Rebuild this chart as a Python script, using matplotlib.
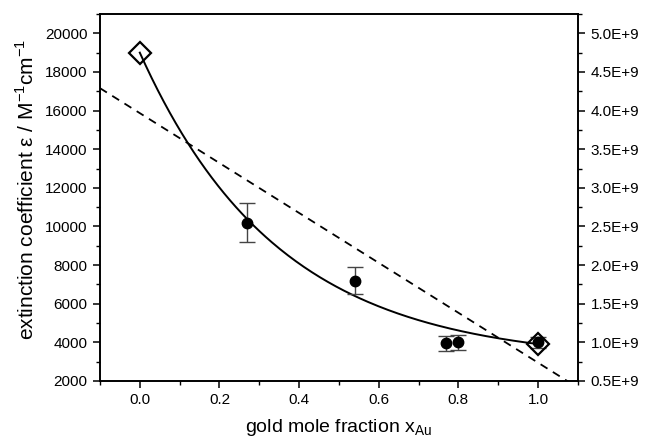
import numpy as np
import matplotlib
matplotlib.use("Agg")
import matplotlib.pyplot as plt
from matplotlib.ticker import MultipleLocator, FuncFormatter

plt.rcParams['font.family'] = ['Liberation Sans', 'DejaVu Sans']

# measured data (filled circles with error bars)
x_meas = [0.27, 0.54, 0.77, 0.80, 1.00]
eps_meas = [10200, 7200, 3950, 4000, 4000]
eps_err = [1000, 700, 380, 380, 300]

# reference values (open diamonds)
x_ref = [0.0, 1.0]
eps_ref = [19000, 3900]

# exponential-decay fit: eps = offset + amp*exp(-rate*x)
fit_offset = 3000
fit_amp = 16000
fit_rate = 2.87

# dashed linear line, endpoints at the axis limits
line_x = [-0.1, 1.1]
line_eps = [17160, 1650]

xticks = [0.0, 0.2, 0.4, 0.6, 0.8, 1.0]
yticks = [2000, 4000, 6000, 8000, 10000, 12000, 14000, 16000, 18000, 20000]

fig = plt.figure(figsize=(6.45, 4.45), dpi=100)
ax = fig.add_axes([0.155, 0.144, 0.741, 0.8245])

xs = np.linspace(0.0, 1.0, 200)
ax.plot(xs, fit_offset + fit_amp * np.exp(-fit_rate * xs), color='black', lw=1.4, zorder=2)
ax.plot(line_x, line_eps, color='black', lw=1.3, ls=(0, (4.5, 3.5)), zorder=2)

ax.errorbar(x_meas, eps_meas, yerr=eps_err, fmt='o', color='black', ms=7.5,
            ecolor='#444444', elinewidth=1.0, capsize=5.5, capthick=1.0, zorder=3)
ax.plot(x_ref, eps_ref, 'D', mfc='none', mec='black', mew=1.6, ms=11, zorder=4, clip_on=False)

ax.set_xlim(-0.1, 1.1)
ax.set_ylim(2000, 21000)
ax.set_xticks(xticks)
ax.set_xticklabels([f"{v:.1f}" for v in xticks])
ax.set_yticks(yticks)
ax.xaxis.set_minor_locator(MultipleLocator(0.1))
ax.yaxis.set_minor_locator(MultipleLocator(1000))

ax2 = ax.twinx()
ax2.set_ylim(2000 * 2.5e5, 21000 * 2.5e5)
ax2.yaxis.set_major_locator(MultipleLocator(0.5e9))
ax2.yaxis.set_minor_locator(MultipleLocator(0.25e9))
ax2.yaxis.set_major_formatter(FuncFormatter(lambda v, p: f"{v/1e9:.1f}E+9"))

for a in (ax, ax2):
    a.tick_params(which='major', direction='out', length=5, width=1.1, labelsize=11, pad=4)
    a.tick_params(which='minor', direction='out', length=3, width=1.0)
    for s in a.spines.values():
        s.set_linewidth(1.2)

ax.set_xlabel(r"gold mole fraction x$_{\mathregular{Au}}$", fontsize=14)
ax.set_ylabel(r"extinction coefficient ε / M$^{\mathregular{-1}}$cm$^{\mathregular{-1}}$", fontsize=15)
ax.xaxis.set_label_coords(0.5, -0.098)
ax.yaxis.set_label_coords(-0.13, 0.523)

fig.savefig("out.png", dpi=100)
